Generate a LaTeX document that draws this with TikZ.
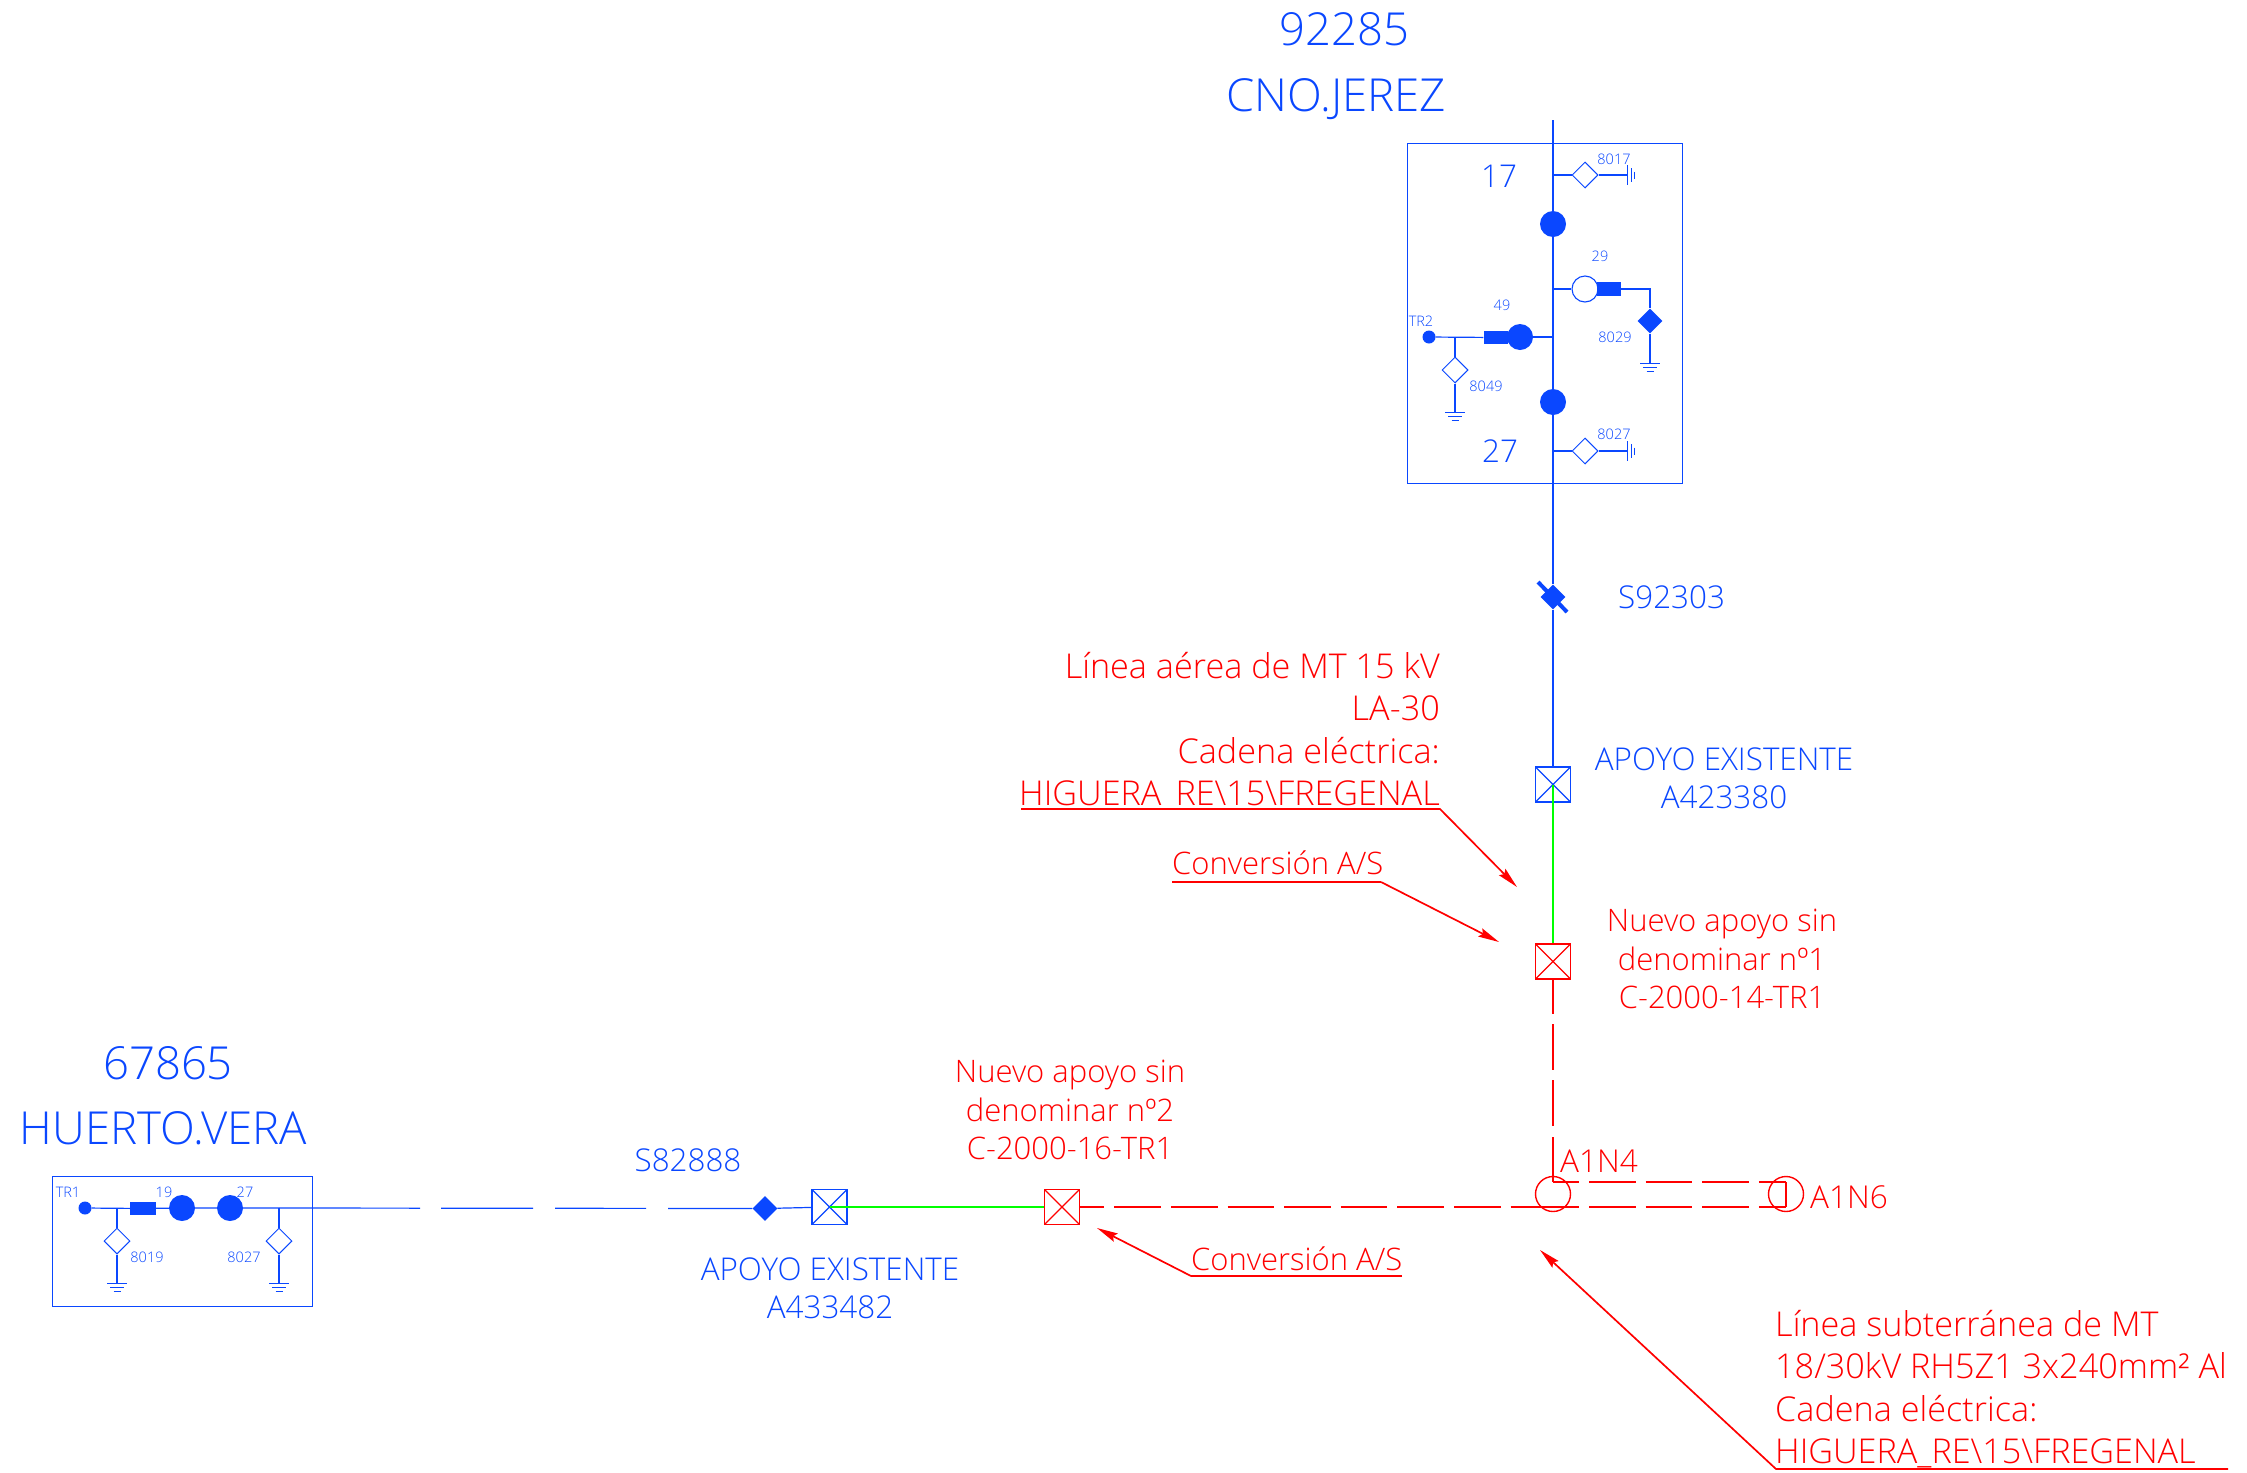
\documentclass[tikz,border=0pt]{standalone}
\usepackage{fontspec}
\setmainfont{Open Sans Light}
\usetikzlibrary{shapes.geometric,arrows.meta}
\definecolor{bl}{HTML}{0A47FF}
\definecolor{rd}{HTML}{FF0000}
\definecolor{gr}{HTML}{00FF00}
\newcommand{\fsz}[2][42.3]{\fontsize{#2}{#1}\selectfont}
\tikzset{
  x=1pt,y=-1pt,
  wire/.style={draw=bl,line width=1.2pt},
  redw/.style={draw=rd,line width=2pt},
  redd/.style={redw,dash pattern=on 46.6pt off 10pt},
  ldr/.style={draw=rd,line width=1.7pt},
  arr/.style={ldr,-{Stealth[length=21pt,width=9pt,inset=3pt]}},
  uline/.style={draw=rd,line width=2.6pt},
  grn/.style={draw=gr,line width=2pt},
  dot/.style={circle,fill=bl,inner sep=0,minimum size=26pt},
  tdot/.style={circle,fill=bl,inner sep=0,minimum size=13pt},
  odot/.style={circle,draw=bl,line width=1.1pt,fill=white,inner sep=0,minimum size=26pt},
  fuse/.style={rectangle,fill=bl,inner sep=0,minimum width=24pt,minimum height=13.5pt},
  dia/.style={diamond,draw=bl,line width=1pt,fill=white,inner sep=0,minimum width=26pt,minimum height=26pt},
  fdia/.style={diamond,fill=bl,inner sep=0,minimum width=25pt,minimum height=25pt},
  sqx/.style={rectangle,draw=#1,line width=1.9pt,inner sep=0,minimum size=35pt,
    path picture={\draw[#1,line width=1.3pt] (path picture bounding box.north west)--(path picture bounding box.south east)
      (path picture bounding box.north east)--(path picture bounding box.south west);}},
  frame/.style={draw=bl,line width=1pt},
  small/.style={text=bl,font=\fsz{14.5},inner sep=0},
  mid/.style={text=bl,font=\fsz[38]{31.4},inner sep=0},
  big/.style={text=bl,font=\fsz{45.5},inner sep=0},
  rtxt/.style={text=rd,font=\fsz{31.5},inner sep=0},
  rlarge/.style={text=rd,font=\fsz{34.2},inner sep=0},
  rsm/.style={text=rd,font=\fsz[38.7]{31},inner sep=0},
  acirc/.style={circle,draw=rd,line width=1.4pt,inner sep=0,minimum size=35pt},
  pics/gdown/.style={code={\draw[bl,line width=1pt] (-10,0)--(10,0) (-7,4)--(7,4) (-3.5,8)--(3.5,8);}},
  pics/gright/.style={code={\draw[bl,line width=1pt] (0,-10)--(0,10) (4,-7)--(4,7) (7.5,-3.5)--(7.5,3.5);}},
}
\begin{document}
\begin{tikzpicture}
\useasboundingbox (0,0) rectangle (2247,1473);
% titles
\node[big,anchor=center] (t1) at (1344,29) {92285};
\node[big,anchor=center] (t2) at (1336,99) {CNO.JEREZ};
\node[big,anchor=center] (t3) at (168,1063) {67865};
\node[big,anchor=center] (t4) at (163.5,1128) {HUERTO.VERA};
% upper box
\draw[frame] (1407,143) rectangle (1682,483);
\coordinate (top) at (1553,120);
\coordinate (j17) at (1553,175);
\coordinate (j29) at (1553,289);
\coordinate (j49) at (1553,337);
\coordinate (j27) at (1553,451);
\node[dot] (c17) at (1553,224) {};
\node[dot] (c27) at (1553,402) {};
\node[sqx=bl] (sqb) at (1553,784.5) {};
\node[sqx=rd] (sqr) at (1553,961.5) {};
\node[fdia] (s1) at (1553,597) {};
\draw[wire] (top)--(c17)--(c27)--(s1)--(sqb.north);
\draw[bl,line width=4pt] (1538,582)--(1567,612);
% 8017
\node[dia] (d17) at (1585,175) {};
\coordinate (g17) at (1627,175);
\draw[wire] (j17)--(d17)--(g17);
\pic at (g17) {gright};
\node[small] (l8017) at (1614,159) {8017};
\node[mid] (l17) at (1499,176) {17};
% 8027
\node[dia] (d27) at (1585,451) {};
\coordinate (g27) at (1627,451);
\draw[wire] (j27)--(d27)--(g27);
\pic at (g27) {gright};
\node[small] (l8027) at (1614,434) {8027};
\node[mid] (l27) at (1500,451) {27};
% 29
\node[odot] (c29) at (1585,289) {};
\node[fuse] (f29) at (1609,289) {};
\node[fdia] (d29) at (1650,321) {};
\coordinate (k29) at (1650,289);
\coordinate (g29) at (1650,363);
\draw[wire] (j29)--(c29);
\draw[wire] (f29)--(k29)--(d29)--(g29);
\pic at (g29) {gdown};
\node[small] (l29) at (1600,256) {29};
\node[small] (l8029) at (1615,337) {8029};
% 49
\node[dot] (c49) at (1520,337) {};
\node[fuse] (f49) at (1495.5,337.5) {};
\node[tdot] (tr2) at (1429,337) {};
\coordinate (j49b) at (1455,337);
\node[dia] (d49) at (1455,370) {};
\coordinate (g49) at (1455,412);
\draw[wire] (j49)--(c49);
\draw[wire] (f49)--(tr2);
\draw[wire] (j49b)--(d49)--(g49);
\pic at (g49) {gdown};
\node[small] (l49) at (1502,305) {49};
\node[small] (ltr2) at (1421,321) {TR2};
\node[small] (l8049) at (1486,386) {8049};
% main lower
\draw[grn] (sqb.center)--(sqr.north);
\node[mid,anchor=west] (s92) at (1618,597) {S92303};
\node[mid,align=center] (ap1) at (1724,778) {APOYO EXISTENTE\\A423380};
\node[rsm,align=center] (nv1) at (1722,959) {Nuevo apoyo sin\\denominar nº1\\C-2000-14-TR1};
% left box
\draw[frame] (52,1176) rectangle (312,1306);
\node[tdot] (tr1) at (85,1208) {};
\node[fuse,minimum width=26pt] (f19) at (143,1208.5) {};
\node[dot] (c19) at (182,1208) {};
\node[dot] (c27l) at (230,1208) {};
\coordinate (j19) at (117,1208);
\coordinate (j27l) at (279,1208);
\node[dia] (d19) at (117,1241) {};
\node[dia] (d27l) at (279,1241) {};
\coordinate (g19) at (117,1283);
\coordinate (g27l) at (279,1283);
\draw[wire] (tr1)--(f19)--(c19)--(c27l)--(j27l);
\draw[wire] (j19)--(d19)--(g19);
\draw[wire] (j27l)--(d27l)--(g27l);
\pic at (g19) {gdown};
\pic at (g27l) {gdown};
\node[small] (ltr1) at (68,1192) {TR1};
\node[small] (l19) at (164,1192) {19};
\node[small] (l27l) at (245,1192) {27};
\node[small] (l8019) at (147,1257) {8019};
\node[small] (l8027l) at (244,1257) {8027};
% bottom line
\node[fdia] (s2) at (765,1208.5) {};
\node[sqx=bl] (sqb2) at (829.5,1207) {};
\node[sqx=rd] (sqr2) at (1062,1207) {};
\draw[wire,dash pattern=on 141pt off 21pt on 92pt off 22pt on 91pt off 22pt on 200pt] (j27l)--(s2);
\draw[wire] (s2)--(sqb2);
\draw[grn] (sqb2.center)--(sqr2.west);
\node[mid] (s82) at (688,1160) {S82888};
\node[mid,align=center] (ap2) at (830,1288) {APOYO EXISTENTE\\A433482};
\node[rsm,align=center] (nv2) at (1070,1110) {Nuevo apoyo sin\\denominar nº2\\C-2000-16-TR1};
% red cable
\coordinate (v1) at (1553,1182);
\coordinate (v2) at (1786,1182);
\coordinate (v3) at (1786,1207);
\coordinate (v4) at (1553,1207);
\draw[redw,dash pattern=on 34pt off 10.5pt on 46pt off 10pt on 46pt off 11pt on 100pt] (sqr.south)--(v1);
\draw[redd,dash phase=22.6pt] (sqr2.east)--(v4);
\draw[redd,dash phase=20.6pt] (v1)--(v2);
\draw[redd,dash phase=20.6pt] (v4)--(v3);
\draw[redw] (v2)--(v3);
\node[acirc] (a4) at (1553,1194) {};
\node[acirc] (a6) at (1786,1194) {};
\node[rtxt,anchor=base west] (la4) at (1560,1172) {A1N4};
\node[rtxt,anchor=base west] (la6) at (1810,1208) {A1N6};
% annotations
\node[rlarge,align=right,anchor=east] (n1) at (1440,731) {Línea aérea de MT 15 kV\\LA-30\\Cadena eléctrica:\\HIGUERA\_RE\textbackslash 15\textbackslash FREGENAL};
\coordinate (u1a) at (1021,809);
\coordinate (u1b) at (1440,809);
\coordinate (u1c) at (1517,887);
\draw[arr] (u1a)--(u1b)--(u1c);
\node[rsm,anchor=base west] (n2) at (1172,874) {Conversión A/S};
\coordinate (u2a) at (1172,882);
\coordinate (u2b) at (1381,882);
\coordinate (u2c) at (1499,942);
\draw[arr] (u2b)--(u2c);
\draw[uline] (u2a)--(u2b);
\node[rsm,anchor=base west] (n3) at (1191,1270) {Conversión A/S};
\coordinate (u3a) at (1402,1276);
\coordinate (u3b) at (1191,1276);
\coordinate (u3c) at (1097,1228);
\draw[arr] (u3b)--(u3c);
\draw[uline] (u3a)--(u3b);
\node[rlarge,align=left,anchor=west] (n4) at (1775,1389) {Línea subterránea de MT\\18/30kV RH5Z1 3x240mm² Al\\Cadena eléctrica:\\HIGUERA\_RE\textbackslash 15\textbackslash FREGENAL};
\coordinate (u4a) at (2228,1469);
\coordinate (u4b) at (1776,1469);
\coordinate (u4c) at (1540,1250);
\draw[arr] (u4a)--(u4b)--(u4c);
\end{tikzpicture}
\end{document}
